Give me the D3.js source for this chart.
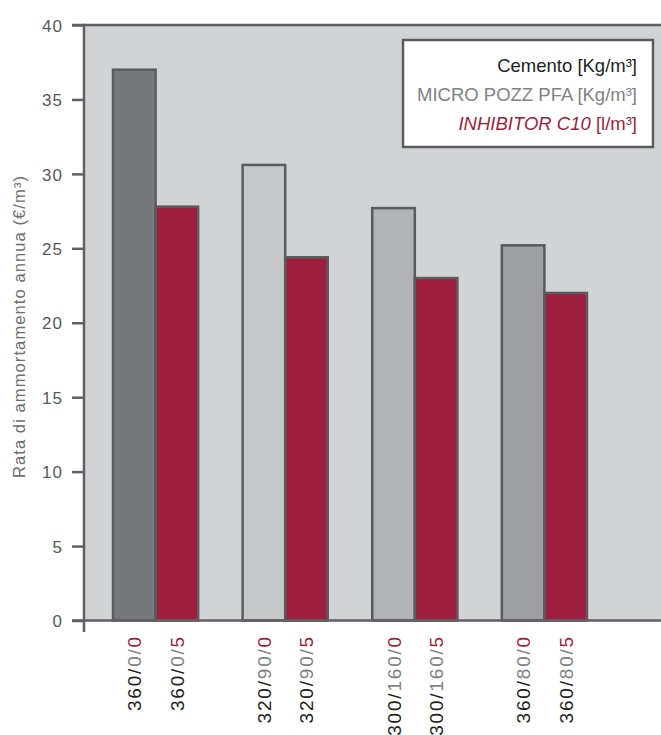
<!DOCTYPE html>
<html>
<head>
<meta charset="utf-8">
<script src="https://cdn.jsdelivr.net/npm/d3@7"></script>
<style>
  html, body { margin: 0; padding: 0; background: #ffffff; }
  svg { display: block; font-family: "Liberation Sans", Arial, sans-serif; }
</style>
</head>
<body>
<svg id="chart" width="661" height="735"></svg>
<script>
// ---- data ----
const groups = ["360/0", "320/90", "300/160", "360/80"];
const cemento = [360, 320, 300, 360];
const microPozz = [0, 90, 160, 80];
const inhibitorDose = [0, 5];
const baseValues = [37.0, 30.6, 27.7, 25.2];
const inhibitorValues = [27.8, 24.4, 23.0, 22.0];
const yTicks = [0, 5, 10, 15, 20, 25, 30, 35, 40];
const yTitle = "Rata di ammortamento annua (€/m³)";
const legendItems = [
  { parts: [{ t: "Cemento [Kg/m³]", c: "#231f20" }] },
  { parts: [{ t: "MICRO POZZ PFA [Kg/m³]", c: "#808285" }] },
  { parts: [{ t: "INHIBITOR C10", c: "#9e1f3d", italic: true }, { t: " [l/m³]", c: "#9e1f3d" }] }
];

// ---- styles ----
const baseColors = ["#77787b", "#c7c8ca", "#b1b3b6", "#9d9fa2"];
const redColor = "#9e1f3d";
const strokeColor = "#5a5b5e";
const bgColor = "#d2d3d5";
const cemColor = "#231f20", microColor = "#808285";

const svg = d3.select("#chart");
const plotLeft = 84, plotTop = 25, plotBottom = 620.5, plotRight = 661;

const y = d3.scaleLinear().domain([0, 40]).range([plotBottom, plotTop]);
const x0 = d3.scaleBand().domain(groups).range([84, 616]).paddingInner(0.343).paddingOuter(0.224);
const x1 = d3.scaleBand().domain(["base", "inh"]).range([0, x0.bandwidth()]);

// background
svg.append("rect").attr("x", plotLeft).attr("y", plotTop)
  .attr("width", plotRight - plotLeft).attr("height", plotBottom - plotTop)
  .attr("fill", bgColor);

// bars
const rows = groups.map((g, i) => ({ g, i, base: baseValues[i], inh: inhibitorValues[i] }));
const gGroups = svg.append("g").selectAll("g").data(rows).join("g")
  .attr("transform", d => `translate(${x0(d.g)},0)`);

gGroups.append("rect")
  .attr("x", x1("base")).attr("width", x1.bandwidth())
  .attr("y", d => y(d.base)).attr("height", d => y(0) - y(d.base))
  .attr("fill", d => baseColors[d.i]).attr("stroke", strokeColor).attr("stroke-width", 2.5);
gGroups.append("rect")
  .attr("x", x1("inh")).attr("width", x1.bandwidth())
  .attr("y", d => y(d.inh)).attr("height", d => y(0) - y(d.inh))
  .attr("fill", redColor).attr("stroke", strokeColor).attr("stroke-width", 2.5);

// axes
const axisColor = "#606164";
const yAxis = d3.axisLeft(y).tickValues(yTicks).tickSize(12).tickPadding(9);
const gy = svg.append("g").attr("transform", `translate(${plotLeft},0)`).call(yAxis);
gy.select(".domain").remove();
gy.selectAll(".tick line").attr("stroke", axisColor).attr("stroke-width", 2.5);
gy.selectAll(".tick text").attr("fill", "#58595b").style("font-size", "17px")
  .style("letter-spacing", "1px").attr("dy", "0.36em");

// axis lines
svg.append("line").attr("x1", plotLeft).attr("x2", plotLeft).attr("y1", plotTop - 1.2).attr("y2", 632)
  .attr("stroke", axisColor).attr("stroke-width", 2.5);
svg.append("line").attr("x1", plotLeft - 12).attr("x2", plotRight).attr("y1", plotBottom).attr("y2", plotBottom)
  .attr("stroke", axisColor).attr("stroke-width", 2.5);
svg.append("line").attr("x1", plotLeft - 12).attr("x2", plotRight).attr("y1", plotTop).attr("y2", plotTop)
  .attr("stroke", axisColor).attr("stroke-width", 2.5);

// y title
svg.append("text")
  .attr("transform", `translate(25,${(170 + 483) / 2}) rotate(-90)`)
  .attr("text-anchor", "middle")
  .attr("fill", "#6d6e71").style("font-size", "16.5px").style("letter-spacing", "1.1px")
  .text(yTitle);

// x labels
const labelsData = [];
rows.forEach(d => {
  ["base", "inh"].forEach((s, k) => {
    labelsData.push({ g: d.g, s, cem: cemento[d.i], mic: microPozz[d.i], inh: inhibitorDose[k] });
  });
});
const xl = svg.append("g").selectAll("text").data(labelsData).join("text")
  .attr("transform", d => `translate(${x0(d.g) + x1(d.s) + x1.bandwidth() / 2 + 7},635) rotate(-90)`)
  .attr("text-anchor", "end")
  .style("font-size", "19px").style("letter-spacing", "1.8px");
xl.append("tspan").attr("fill", cemColor).text(d => d.cem + "/");
xl.append("tspan").attr("fill", microColor).text(d => d.mic + "/");
xl.append("tspan").attr("fill", redColor).text(d => d.inh);

// legend
const legX = 403, legY = 40, legW = 250, legH = 107;
svg.append("rect").attr("x", legX).attr("y", legY).attr("width", legW).attr("height", legH)
  .attr("fill", "#ffffff").attr("stroke", strokeColor).attr("stroke-width", 2.5);
const lt = svg.append("g").selectAll("text").data(legendItems).join("text")
  .attr("x", 637).attr("y", (d, i) => 72 + i * 29)
  .attr("text-anchor", "end").style("font-size", "18.5px");
lt.selectAll("tspan").data(d => d.parts).join("tspan")
  .attr("fill", p => p.c).style("font-style", p => p.italic ? "italic" : "normal")
  .text(p => p.t);
</script>
</body>
</html>
